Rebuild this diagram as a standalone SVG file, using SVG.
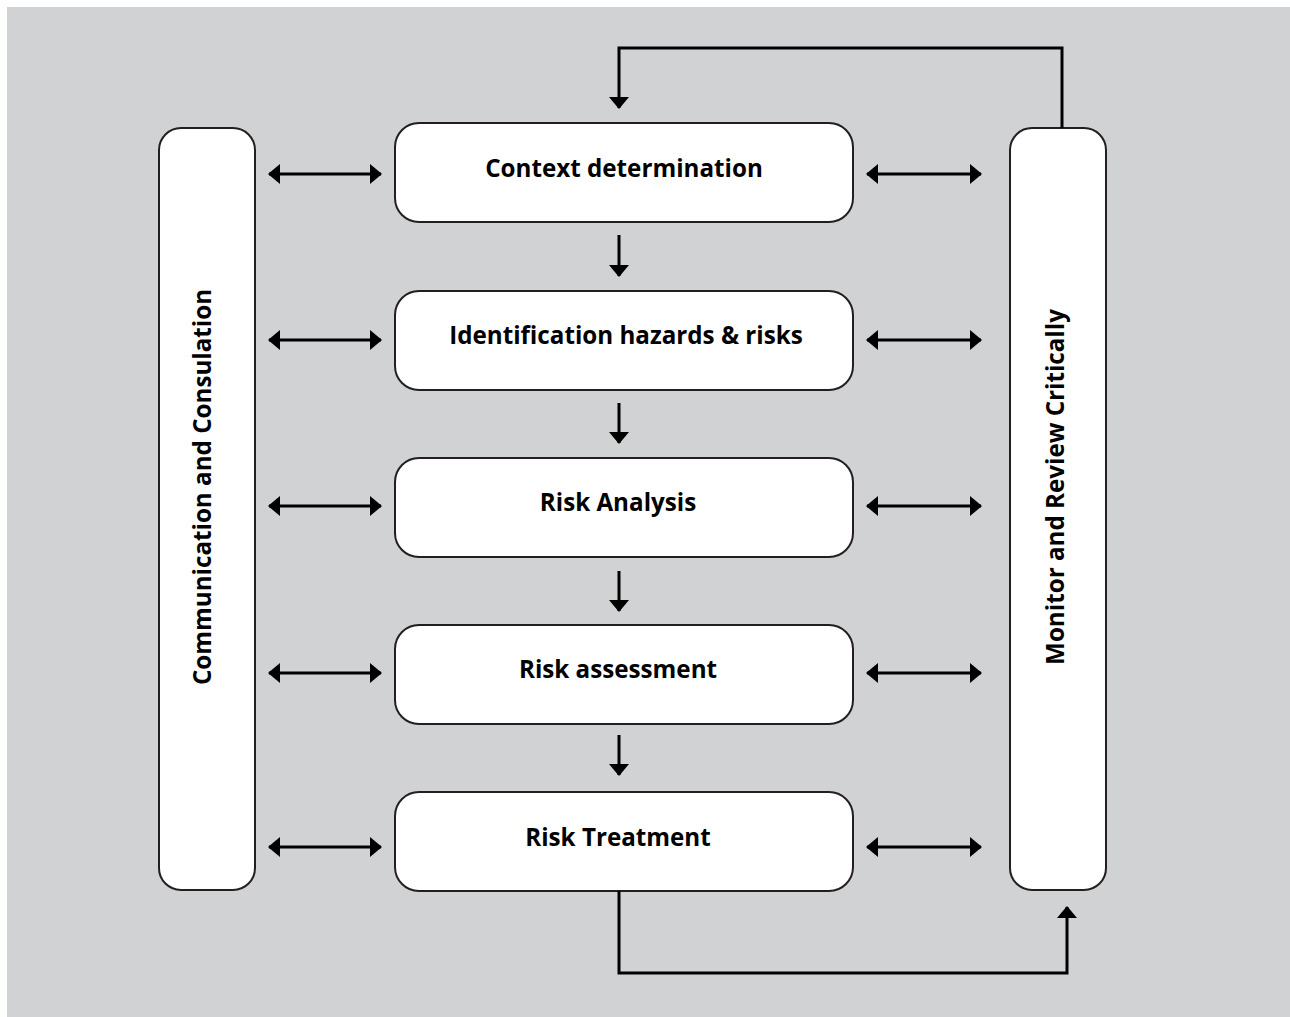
<svg xmlns="http://www.w3.org/2000/svg" width="1290" height="1017" viewBox="0 0 1290 1017">
<style>
.box{fill:#fff;stroke:#231f20;stroke-width:2}
.lbl{font-family:"Open Sans","Liberation Sans",sans-serif;font-weight:700;font-size:24.2px;fill:#000;text-anchor:middle}
.ln{fill:none;stroke:#000;stroke-width:3}
</style>
<defs>
<marker id="ah" viewBox="0 0 12 20" refX="11" refY="10" markerWidth="12" markerHeight="20" markerUnits="userSpaceOnUse" orient="auto-start-reverse">
<path d="M0,0 L12,10 L0,20 Z" fill="#000"/>
</marker>
</defs>
<rect x="7" y="7" width="1283" height="1010" fill="#d1d2d4"/>
<g id="comm">
<rect class="box" x="159" y="128" width="96" height="762" rx="22"/>
<text class="lbl" transform="translate(211,487) rotate(-90)">Communication and Consulation</text>
</g>
<g id="monitor">
<rect class="box" x="1010" y="128" width="96" height="762" rx="22"/>
<text class="lbl" transform="translate(1064,487) rotate(-90)">Monitor and Review Critically</text>
</g>
<g id="n1"><rect class="box" x="395" y="123" width="458" height="99" rx="24"/><text class="lbl" x="624" y="177">Context determination</text></g>
<g id="n2"><rect class="box" x="395" y="291" width="458" height="99" rx="24"/><text class="lbl" x="626" y="344">Identification hazards &amp; risks</text></g>
<g id="n3"><rect class="box" x="395" y="458" width="458" height="99" rx="24"/><text class="lbl" x="618" y="511">Risk Analysis</text></g>
<g id="n4"><rect class="box" x="395" y="625" width="458" height="99" rx="24"/><text class="lbl" x="618" y="678">Risk assessment</text></g>
<g id="n5"><rect class="box" x="395" y="792" width="458" height="99" rx="24"/><text class="lbl" x="618" y="846">Risk Treatment</text></g>
<g id="connectors" class="ln">
<path class="ln" d="M269,174 H381" marker-start="url(#ah)" marker-end="url(#ah)"/>
<path class="ln" d="M269,340 H381" marker-start="url(#ah)" marker-end="url(#ah)"/>
<path class="ln" d="M269,506 H381" marker-start="url(#ah)" marker-end="url(#ah)"/>
<path class="ln" d="M269,673 H381" marker-start="url(#ah)" marker-end="url(#ah)"/>
<path class="ln" d="M269,847 H381" marker-start="url(#ah)" marker-end="url(#ah)"/>
<path class="ln" d="M867,174 H981" marker-start="url(#ah)" marker-end="url(#ah)"/>
<path class="ln" d="M867,340 H981" marker-start="url(#ah)" marker-end="url(#ah)"/>
<path class="ln" d="M867,506 H981" marker-start="url(#ah)" marker-end="url(#ah)"/>
<path class="ln" d="M867,673 H981" marker-start="url(#ah)" marker-end="url(#ah)"/>
<path class="ln" d="M867,847 H981" marker-start="url(#ah)" marker-end="url(#ah)"/>
<path class="ln" d="M619,235 V276" marker-end="url(#ah)"/>
<path class="ln" d="M619,403 V443" marker-end="url(#ah)"/>
<path class="ln" d="M619,571 V611" marker-end="url(#ah)"/>
<path class="ln" d="M619,735 V775" marker-end="url(#ah)"/>
<path class="ln" d="M1062,128 V48 H619 V108" marker-end="url(#ah)"/>
<path class="ln" d="M619,891 V973 H1067 V907" marker-end="url(#ah)"/>
</g>
</svg>
